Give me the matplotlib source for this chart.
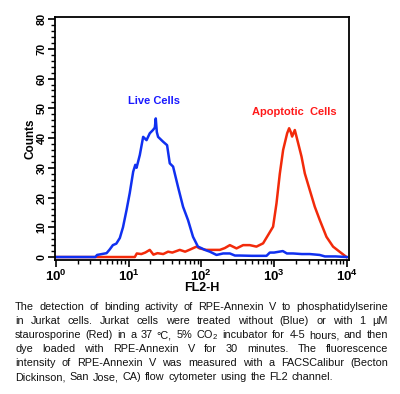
import matplotlib
matplotlib.use("Agg")
import numpy as np
import matplotlib.pyplot as plt
from matplotlib.ticker import FixedLocator, MultipleLocator, LogLocator, FuncFormatter, NullFormatter

plt.rcParams['font.family'] = ['Liberation Sans', 'DejaVu Sans']
plt.rcParams['mathtext.fontset'] = 'custom'
plt.rcParams['mathtext.rm'] = 'Liberation Sans'
plt.rcParams['mathtext.bf'] = 'Liberation Sans:bold'
plt.rcParams['mathtext.it'] = 'Liberation Sans:italic'

# Live cells (blue) histogram
blue_x = [1, 3.5, 3.7, 5.0, 5.5, 6.1, 6.8, 7.6, 8.4, 9.4, 10.4, 11.6, 12.4, 12.9, 14.3,
          15.9, 17.7, 19.6, 21.7, 23.0, 23.7, 24.5, 25.5, 29.8, 33.9, 36.9, 41, 47.9,
          56.2, 65.8, 77, 90, 100, 112, 131, 162, 200, 247, 290, 337, 500, 788, 874,
          1000, 1320, 1500, 1825, 2400, 3090, 4240, 5000, 7000, 10000]
blue_y = [0, 0, 0.7, 1.3, 2.5, 4, 4.5, 6.4, 10, 15.8, 21.5, 28.7, 31, 30, 34.3,
          40.4, 39.3, 41.6, 42.7, 43.5, 46.6, 42, 40.4, 38.8, 37.6, 31.5, 30.4, 23.6,
          16.9, 12.4, 6.8, 3.5, 3.0, 2.4, 1.8, 0.7, 1.2, 1.2, 0.5, 0.5, 0.4, 0.4, 1.5,
          1.5, 2, 1.2, 1.2, 1.0, 1, 0.7, 0.2, 0.2, 0]

# Apoptotic cells (red) histogram
red_x = [1, 12.2, 13, 15, 17, 19.6, 22, 25, 30, 35, 40, 50.6, 60, 70, 86, 95, 117,
         150, 180, 210, 247, 305, 376, 464, 573, 707, 829, 970, 1080, 1200, 1333,
         1514, 1612, 1700, 1772, 1929, 2143, 2383, 2648, 3098, 3630, 4255, 5250,
         6470, 7940, 9900]
red_y = [0, 0, 1.2, 1.0, 1.5, 2.4, 0.8, 1.3, 1.0, 1.8, 1.5, 2.4, 1.8, 2.5, 3.5, 2.9,
         2.4, 2.4, 2.4, 3.0, 4, 2.9, 4, 4, 3.5, 4.6, 7.4, 10.2, 18, 28, 36, 41.6,
         43.3, 42, 40.5, 42.7, 38.3, 33.8, 28.1, 22.5, 16.9, 12.4, 6.8, 3.5, 1.8, 0]

caption_lines = [
    "The detection of binding activity of RPE-Annexin V to phosphatidylserine",
    "in Jurkat cells. Jurkat cells were treated without (Blue) or with 1 \u00b5M",
    "staurosporine (Red) in a 37 \u00b0C, 5% CO$_2$ incubator for 4-5 hours, and then",
    "dye loaded with RPE-Annexin V for 30 minutes. The fluorescence",
    "intensity of RPE-Annexin V was measured with a FACSCalibur (Becton",
    "Dickinson, San Jose, CA) flow cytometer using the FL2 channel.",
]

W, H = 400, 394
fig = plt.figure(figsize=(W / 100, H / 100), dpi=100)
ax = fig.add_axes([55 / W, 1 - 260 / H, 294 / W, 243 / H])

ax.plot(red_x, red_y, color='#f22a0a', lw=1.8)
ax.plot(blue_x, blue_y, color='#1030f0', lw=1.8)

ax.set_xscale('log')
ax.set_xlim(10 ** -0.01, 10 ** 4.03)
ax.set_ylim(-1, 80.7)

ax.xaxis.set_major_locator(FixedLocator([1, 10, 100, 1000, 10000]))
ax.xaxis.set_minor_locator(LogLocator(base=10, subs=np.arange(2, 10)))
ax.xaxis.set_minor_formatter(NullFormatter())
ax.xaxis.set_major_formatter(FuncFormatter(lambda v, p: r'$\mathbf{10^{%d}}$' % round(np.log10(v))))
ax.yaxis.set_major_locator(MultipleLocator(10))
ax.yaxis.set_minor_locator(MultipleLocator(2))

ax.tick_params(axis='both', which='both', direction='out', top=False, right=False, color='black')
ax.tick_params(axis='both', which='major', length=5, width=1.2)
ax.tick_params(axis='both', which='minor', length=3, width=1.0)
ax.tick_params(axis='x', which='major', labelsize=9.5, pad=1)
ax.tick_params(axis='y', which='major', labelsize=7.8, pad=1)
for lab in ax.get_yticklabels():
    lab.set_rotation(90)
    lab.set_fontweight('bold')
    lab.set_va('center')

for s in ax.spines.values():
    s.set_linewidth(1.3)
    s.set_color('black')

ax.set_xlabel('FL2-H', fontsize=9, fontweight='bold', labelpad=-1)
ax.set_ylabel('Counts', fontsize=8.5, fontweight='bold', labelpad=0)

ax.text(22.2, 52.4, 'Live Cells', color='#1a1aff', fontsize=8, fontweight='bold',
        ha='center', va='center')
ax.text(1929, 48.7, 'Apoptotic  Cells', color='#ff1a1a', fontsize=8, fontweight='bold',
        ha='center', va='center')

# justified caption under the chart
renderer = fig.canvas.get_renderer()
left_px, right_px = 15, 388
line_base = [310.5, 324.5, 338.5, 352.5, 366.5, 380.5]

probe = fig.text(0, 0, caption_lines[0], fontsize=8)
cap_size = 0.94 * 8 * (right_px - left_px) / probe.get_window_extent(renderer).width
probe.remove()

for i, line in enumerate(caption_lines):
    words = line.split(' ')
    texts = [fig.text(0, 1 - line_base[i] / H, w, fontsize=cap_size, color='#111111',
                      va='baseline') for w in words]
    widths = [t.get_window_extent(renderer).width for t in texts]
    if i < len(caption_lines) - 1:
        gap = (right_px - left_px - sum(widths)) / (len(words) - 1)
    else:
        gap = cap_size * 1.39 * 0.35
    x = left_px
    for t, w in zip(texts, widths):
        t.set_x(x / W)
        x += w + gap

fig.savefig('out.png', dpi=100)
